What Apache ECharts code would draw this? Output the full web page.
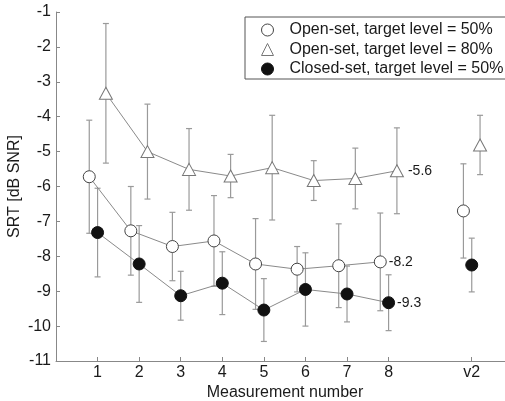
<!DOCTYPE html>
<html><head><meta charset="utf-8">
<script src="https://cdn.jsdelivr.net/npm/echarts@6/dist/echarts.min.js"></script>
<style>html,body{margin:0;padding:0;background:#fff}#c{width:505px;height:401px}</style>
</head><body><div id="c"></div>
<script>
const xLabels = ['1','2','3','4','5','6','7','8','v2'];
const xPos = [1,2,3,4,5,6,7,8,10];
const seriesNames = ['Open-set, target level = 50%','Open-set, target level = 80%','Closed-set, target level = 50%'];
const open50 = [-5.72,-7.27,-7.72,-7.56,-8.22,-8.37,-8.27,-8.16,-6.70];
const open50Err = [1.62,1.27,0.98,1.30,1.30,0.65,1.20,1.40,1.35];
const open80 = [-3.33,-5.00,-5.51,-5.70,-5.46,-5.83,-5.77,-5.55,-4.81];
const open80Err = [2.00,1.36,1.17,0.62,1.50,0.57,0.87,1.23,0.85];
const closed50 = [-7.32,-8.22,-9.13,-8.77,-9.54,-8.95,-9.08,-9.33,-8.25];
const closed50Err = [1.27,1.10,0.70,0.90,0.90,1.05,0.80,0.80,0.77];
const endLabels = ['-8.2','-5.6','-9.3'];

const vals = [open50, open80, closed50];
const errs = [open50Err, open80Err, closed50Err];
const dodge = [-0.2, 0.2, 0];
const symbols = ['circle','triangle','circle'];
const symSizes = [12,[13,12],12];
const fills = ['#ffffff','#ffffff','#111111'];
const borders = ['#444444','#777777','#111111'];
const FONT = 'Liberation Sans, Arial, sans-serif';

const series = [];
for (let s = 0; s < 3; s++) {
  series.push({
    type: 'custom', silent: true, z: 1,
    data: xPos.map((x, i) => [x + dodge[s], vals[s][i] - errs[s][i], vals[s][i] + errs[s][i]]),
    encode: {x: 0, y: [1, 2]},
    renderItem: function (params, api) {
      const x = api.value(0);
      const lo = api.coord([x, api.value(1)]);
      const hi = api.coord([x, api.value(2)]);
      const w = 3;
      const st = {stroke: '#9a9a9a', lineWidth: 1.2};
      return {type: 'group', children: [
        {type: 'line', shape: {x1: lo[0], y1: lo[1], x2: hi[0], y2: hi[1]}, style: st},
        {type: 'line', shape: {x1: hi[0]-w, y1: hi[1], x2: hi[0]+w, y2: hi[1]}, style: st},
        {type: 'line', shape: {x1: lo[0]-w, y1: lo[1], x2: lo[0]+w, y2: lo[1]}, style: st}
      ]};
    }
  });
}
for (let s = 0; s < 3; s++) {
  const lineData = xPos.slice(0, 8).map((x, i) => {
    const item = {value: [x + dodge[s], vals[s][i]]};
    if (i === 7) item.label = {show: true, position: 'right', distance: s === 1 ? 4 : 2,
      formatter: endLabels[s], color: '#1a1a1a', fontSize: 14, fontFamily: FONT};
    return item;
  });
  series.push({
    name: seriesNames[s], type: 'line', z: 3,
    data: lineData,
    symbol: symbols[s], symbolSize: symSizes[s], showAllSymbol: true,
    lineStyle: {color: '#8a8a8a', width: 1},
    itemStyle: {color: fills[s], borderColor: borders[s], borderWidth: 1, opacity: 1},
    emphasis: {disabled: true}
  });
  series.push({
    name: seriesNames[s], type: 'scatter', z: 3,
    data: [[xPos[8] + dodge[s], vals[s][8]]],
    symbol: symbols[s], symbolSize: symSizes[s],
    itemStyle: {color: fills[s], borderColor: borders[s], borderWidth: 1, opacity: 1},
    emphasis: {disabled: true}
  });
}

const chart = echarts.init(document.getElementById('c'), null, {renderer: 'canvas'});
chart.setOption({
  animation: false,
  backgroundColor: '#ffffff',
  textStyle: {fontFamily: FONT},
  grid: {left: 56, right: 0, top: 12, bottom: 40, containLabel: false, outerBoundsMode: 'none'},
  legend: {
    orient: 'vertical', left: 245, top: 17,
    padding: [5, 40, 2, 16], itemGap: 3.5,
    itemWidth: 12, itemHeight: 12,
    borderColor: '#555', borderWidth: 1,
    backgroundColor: '#fff',
    selectedMode: false,
    textStyle: {fontSize: 16, color: '#1a1a1a', fontFamily: FONT, lineHeight: 16, padding: [0,0,0,11]},
    data: [
      {name: seriesNames[0], icon: 'circle', itemStyle: {color: '#fff', borderColor: '#444', borderWidth: 1}},
      {name: seriesNames[1], icon: 'triangle', itemStyle: {color: '#fff', borderColor: '#777', borderWidth: 1}},
      {name: seriesNames[2], icon: 'circle', itemStyle: {color: '#111', borderColor: '#111', borderWidth: 1}}
    ]
  },
  xAxis: {
    type: 'value', min: 0, max: 10.8,
    name: 'Measurement number', nameLocation: 'middle', nameGap: 24, nameMoveOverlap: false,
    nameTextStyle: {fontSize: 16, color: '#1a1a1a', fontFamily: FONT, padding: [0,0,0,9]},
    axisLine: {show: true, lineStyle: {color: '#888', width: 1}},
    axisTick: {show: true, inside: true, length: 4, lineStyle: {color: '#888'}, customValues: xPos},
    axisLabel: {customValues: xPos, fontSize: 16, color: '#1a1a1a', margin: 4, fontFamily: FONT,
      formatter: v => xLabels[xPos.indexOf(Math.round(v))] || ''},
    splitLine: {show: false}
  },
  yAxis: {
    type: 'value', min: -11, max: -1, interval: 1,
    name: 'SRT [dB SNR]', nameLocation: 'middle', nameGap: 33, nameMoveOverlap: false,
    nameTextStyle: {fontSize: 16, color: '#1a1a1a', fontFamily: FONT},
    axisLine: {show: true, lineStyle: {color: '#888', width: 1}},
    axisTick: {show: true, inside: true, length: 4, lineStyle: {color: '#888'}},
    axisLabel: {fontSize: 16, color: '#1a1a1a', margin: 5, fontFamily: FONT},
    splitLine: {show: false}
  },
  series: series
});
</script></body></html>
